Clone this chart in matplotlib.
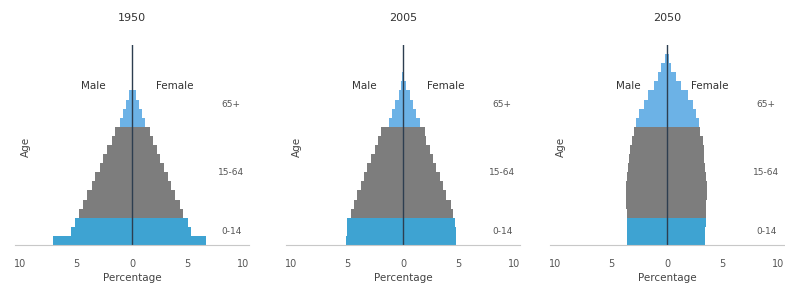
import matplotlib
matplotlib.use("Agg")
import matplotlib.pyplot as plt
import numpy as np

# population share (% of total) by 5-year age group, 0-4 ... 100+
age_groups = ['0-4', '5-9', '10-14', '15-19', '20-24', '25-29', '30-34', '35-39',
              '40-44', '45-49', '50-54', '55-59', '60-64', '65-69', '70-74',
              '75-79', '80-84', '85-89', '90-94', '95-99', '100+']
years = ['1950', '2005', '2050']

male_1950 = [7.1, 5.5, 5.1, 4.8, 4.4, 4.0, 3.6, 3.3, 2.9, 2.6, 2.2, 1.8, 1.5,
             1.1, 0.8, 0.5, 0.3, 0, 0, 0, 0]
female_1950 = [6.6, 5.3, 5.0, 4.6, 4.3, 3.9, 3.5, 3.2, 2.9, 2.5, 2.2, 1.9, 1.6,
               1.2, 0.9, 0.6, 0.35, 0, 0, 0, 0]

male_2005 = [5.1, 5.0, 5.0, 4.7, 4.4, 4.1, 3.8, 3.5, 3.2, 2.9, 2.5, 2.2, 2.0,
             1.3, 1.0, 0.7, 0.4, 0.15, 0.05, 0, 0]
female_2005 = [4.8, 4.8, 4.7, 4.5, 4.3, 3.9, 3.6, 3.3, 3.0, 2.7, 2.4, 2.1, 2.0,
               1.5, 1.2, 0.9, 0.6, 0.3, 0.1, 0.03, 0]

male_2050 = [3.6, 3.6, 3.6, 3.6, 3.7, 3.7, 3.7, 3.6, 3.5, 3.4, 3.3, 3.1, 3.0,
             2.8, 2.5, 2.1, 1.7, 1.2, 0.8, 0.5, 0.2]
female_2050 = [3.4, 3.4, 3.5, 3.5, 3.5, 3.6, 3.6, 3.5, 3.4, 3.3, 3.3, 3.2, 3.0,
               2.9, 2.6, 2.3, 1.9, 1.3, 0.8, 0.4, 0.15]

broad_groups = ['0-14', '15-64', '65+']
broad_pos = [1, 7.5, 15]

males = [male_1950, male_2005, male_2050]
females = [female_1950, female_2005, female_2050]

c_young = '#3ea3d2'
c_work = '#7d7d7d'
c_old = '#6cb2e6'
colors = [c_young] * 3 + [c_work] * 10 + [c_old] * 8

fig = plt.figure(figsize=(7.85, 2.93), dpi=100)
centers = [132, 403, 667]
W, H = 785, 293

for i in range(3):
    left = (centers[i] - 117) / W
    ax = fig.add_axes([left, 48 / H, 234 / W, 200 / H])
    y = np.arange(len(age_groups))
    ax.barh(y, -np.array(males[i]), height=1.0, color=colors, linewidth=0)
    ax.barh(y, females[i], height=1.0, color=colors, linewidth=0)
    ax.axvline(0, color='#2d3e50', lw=1.0)
    ax.set_xlim(-10.5, 10.5)
    ax.set_ylim(-0.5, 21.5)
    for s in ['top', 'right', 'left']:
        ax.spines[s].set_visible(False)
    ax.spines['bottom'].set_color('#c8c8c8')
    ax.set_yticks([])
    ax.set_xticks([-10, -5, 0, 5, 10])
    ax.set_xticklabels(['10', '5', '0', '5', '10'])
    ax.tick_params(axis='x', length=0, pad=10, labelsize=7, labelcolor='#555555')
    ax.set_xlabel('Percentage', fontsize=7.5, color='#444444', labelpad=3)
    ax.text(0.5, 1.135, years[i], transform=ax.transAxes, ha='center', va='center',
            fontsize=8, color='#333333')
    ax.text(-3.5, 17.0, 'Male', ha='center', va='center', fontsize=7.5, color='#333333')
    ax.text(3.8, 17.0, 'Female', ha='center', va='center', fontsize=7.5, color='#333333')
    ax.text(-9.5, 10.3, 'Age', rotation=90, ha='center', va='center', fontsize=7.5,
            color='#444444')
    for lab, p in zip(broad_groups, broad_pos):
        ax.text(8.9, p, lab, ha='center', va='center', fontsize=6.5, color='#555555')

fig.savefig('out.png', dpi=100)
